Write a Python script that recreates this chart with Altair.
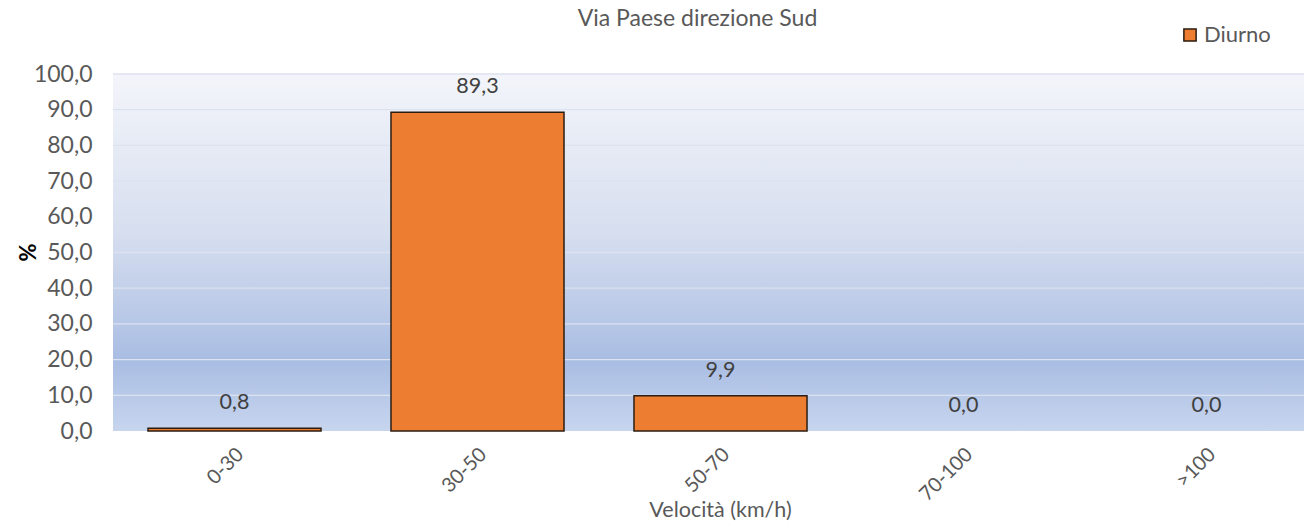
import altair as alt
import pandas as pd

categories = ["0-30", "30-50", "50-70", "70-100", ">100"]
values = [0.8, 89.3, 9.9, 0.0, 0.0]
series_name = "Diurno"
tick_values = [0, 10, 20, 30, 40, 50, 60, 70, 80, 90, 100]
grid_values = [10, 20, 30, 40, 50, 60, 70, 80, 90, 100]

df = pd.DataFrame({"cat": categories, "pct": values, "serie": series_name})
grid_df = pd.DataFrame({"v": grid_values})
bg_df = pd.DataFrame({"k": [0]})

W = 1191
H = 357
FONT = "Lato"
GREY = "#595959"

x_axis = alt.Axis(
    title="Velocità (km/h)",
    labelAngle=-45,
    labelAlign="right",
    labelBaseline="middle",
    labelFontSize=20,
    labelColor=GREY,
    labelFont=FONT,
    labelPadding=20,
    labelOffset=6,
    labelOverlap=False,
    ticks=False,
    domain=False,
    grid=False,
    titleFont=FONT,
    titleFontSize=21.5,
    titleFontWeight="normal",
    titleColor=GREY,
    titleX=607,
    titleY=79,
    titleAlign="center",
    titleBaseline="middle",
)
x_scale = alt.Scale(range=[0, 1215], paddingInner=0.288, paddingOuter=0.144)

y_axis = alt.Axis(
    title="%",
    values=tick_values,
    tickCount=11,
    labelExpr="replace(format(datum.value, '.1f'), '.', ',')",
    labelFontSize=23,
    labelColor=GREY,
    labelFont=FONT,
    labelPadding=21,
    labelOverlap=False,
    ticks=False,
    domain=False,
    grid=False,
    titleFont=FONT,
    titleFontSize=22,
    titleFontWeight="bold",
    titleColor="#000000",
    titleX=-85,
    titleY=178,
    titleAlign="center",
    titleBaseline="middle",
)
y_scale = alt.Scale(domain=[0, 100], nice=False)

bg = alt.Chart(bg_df).mark_rect(
    color=alt.LinearGradient(
        gradient="linear",
        x1=0, y1=0, x2=0, y2=1,
        stops=[
            alt.GradientStop(offset=0, color="#f3f5fa"),
            alt.GradientStop(offset=0.45, color="#d6deef"),
            alt.GradientStop(offset=0.8, color="#a9bde3"),
            alt.GradientStop(offset=1, color="#c7d5ee"),
        ],
    )
).encode(
    x=alt.value(0), x2=alt.value(W), y=alt.value(0), y2=alt.value(H)
)

grid = alt.Chart(grid_df).mark_rule(color="#dce2ef", strokeWidth=1.3).encode(
    y=alt.Y("v:Q", scale=y_scale, axis=y_axis)
)

bars = alt.Chart(df).mark_bar(stroke="#2b1d12").encode(
    x=alt.X("cat:N", sort=categories, scale=x_scale, axis=x_axis),
    y=alt.Y("pct:Q", scale=y_scale, axis=y_axis),
    color=alt.Color(
        "serie:N",
        scale=alt.Scale(domain=[series_name], range=["#ED7D31"]),
        legend=alt.Legend(
            title=None,
            orient="none",
            legendX=1066,
            legendY=-50,
            symbolType="square",
            symbolSize=150,
            symbolStrokeColor="#2b1d12",
            symbolStrokeWidth=1.5,
            labelFontSize=22,
            labelOffset=3,
            labelFont=FONT,
            labelColor=GREY,
        ),
    ),
    strokeWidth=alt.condition("datum.pct > 0", alt.value(1.5), alt.value(0)),
)

labels = alt.Chart(df).transform_calculate(
    lab="replace(format(datum.pct, '.1f'), '.', ',')"
).mark_text(
    font=FONT, fontSize=21.5, color="#404040", baseline="bottom", dy=-14
).encode(
    x=alt.X("cat:N", sort=categories, scale=x_scale, axis=x_axis),
    y=alt.Y("pct:Q", scale=y_scale, axis=y_axis),
    text="lab:N",
)

chart = alt.layer(bg, grid, bars, labels).properties(
    width=W,
    height=H,
    title=alt.TitleParams(
        "Via Paese direzione Sud",
        font=FONT,
        fontSize=23,
        fontWeight="normal",
        color=GREY,
        anchor="middle",
        frame="group",
        baseline="alphabetic",
        offset=0,
        dx=-11,
        dy=25,
    ),
    autosize=alt.AutoSizeParams(type="none"),
    padding={"left": 105, "top": 66, "right": 0, "bottom": 95},
).configure_view(stroke=None)

chart.save("out.html", embed_options={"renderer": "svg", "actions": False})
